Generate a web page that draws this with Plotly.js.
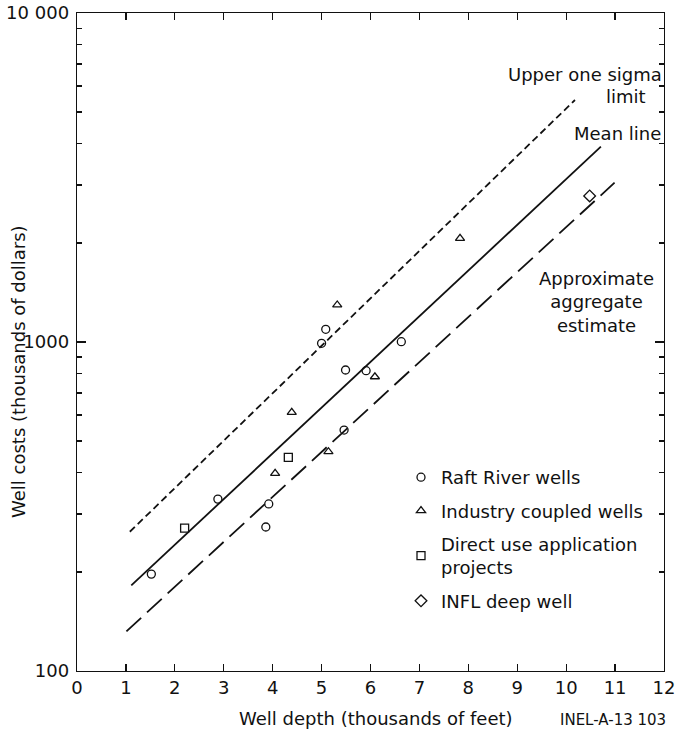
<!DOCTYPE html>
<html>
<head>
<meta charset="utf-8">
<script src="https://cdn.plot.ly/plotly-3.0.1.min.js"></script>
<style>html,body{margin:0;padding:0;background:#fff;}#chart{width:676px;height:738px;}</style>
</head>
<body>
<div id="chart"></div>
<script>
// Data
var raftX = [1.52, 2.88, 3.86, 3.92, 5.00, 5.085, 5.46, 5.49, 5.91, 6.63];
var raftY = [197, 333, 274, 322, 991, 1093, 540, 822, 818, 1002];
var industryX = [4.05, 4.39, 5.14, 5.32, 6.09, 7.83];
var industryY = [399, 611, 464, 1296, 784, 2066];
var directX = [2.20, 4.32];
var directY = [272, 446];
var inflX = [10.48];
var inflY = [2779];

var upperX = [1.08, 10.18];
var upperY = [265, 5440];
var meanX = [1.11, 10.71];
var meanY = [182, 3924];
var aggX = [1.01, 10.99];
var aggY = [132, 3050];

var xTickVals = [0, 1, 2, 3, 4, 5, 6, 7, 8, 9, 10, 11, 12];
var xTickText = ["0", "1", "2", "3", "4", "5", "6", "7", "8", "9", "10", "11", "12"];
var yTickVals = [100, 1000, 10000];
var yTickText = ["100", "1000", "10 000"];
var yMinorVals = [200, 300, 400, 500, 600, 700, 800, 900, 2000, 3000, 4000, 5000, 6000, 7000, 8000, 9000];

var FONT = "DejaVu Sans, Liberation Sans, Arial, sans-serif";
var INK = "#111";

function markerTrace(x, y, name, symbol, size, group) {
  return {
    x: x, y: y, type: "scatter", mode: "markers", name: name,
    legendgroup: group,
    marker: {symbol: symbol, size: size, color: INK, line: {color: INK, width: 1.3}},
    hoverinfo: "skip", cliponaxis: false
  };
}
function lineTrace(x, y, dash) {
  return {
    x: x, y: y, type: "scatter", mode: "lines", showlegend: false,
    line: {color: INK, width: 1.8, dash: dash}, hoverinfo: "skip"
  };
}

var data = [
  lineTrace(upperX, upperY, "7px,4px"),
  lineTrace(meanX, meanY, "solid"),
  lineTrace(aggX, aggY, "20px,8px"),
  markerTrace(raftX, raftY, "Raft River wells", "circle-open", 8, "a"),
  markerTrace(industryX, industryY, "Industry coupled wells", "triangle-up-open", 8, "b"),
  markerTrace(directX, directY, "Direct use application<br>projects", "square-open", 8, "c"),
  markerTrace(inflX, inflY, "INFL deep well", "diamond-open", 9, "d")
];

var PL = 77, PR = 664, PT = 13, PB = 671;
var PW = PR - PL, PH = PB - PT;
function px(x) { return (x - PL) / PW; }
function py(y) { return (PB - y) / PH; }

var layout = {
  width: 676, height: 738,
  margin: {l: PL, r: 676 - PR, t: PT, b: 738 - PB},
  paper_bgcolor: "#fff", plot_bgcolor: "#fff",
  font: {family: FONT, size: 18, color: INK},
  showlegend: true,
  legend: {
    x: px(401), y: py(459), xanchor: "left", yanchor: "top",
    bgcolor: "rgba(0,0,0,0)", borderwidth: 0,
    font: {family: FONT, size: 18, color: INK},
    traceorder: "grouped", tracegroupgap: 7, itemwidth: 30
  },
  xaxis: {
    range: [0, 12], tickmode: "array", tickvals: xTickVals, ticktext: xTickText,
    showgrid: false, zeroline: false,
    showline: true, linecolor: INK, linewidth: 1.3, mirror: "ticks",
    ticks: "inside", ticklen: 7, tickwidth: 1.2, tickcolor: INK,
    ticklabeloverflow: "allow",
    tickfont: {family: FONT, size: 18, color: INK}
  },
  yaxis: {
    type: "log", range: [2, 4],
    tickmode: "array", tickvals: yTickVals, ticktext: yTickText,
    showgrid: false, zeroline: false,
    showline: true, linecolor: INK, linewidth: 1.3, mirror: "ticks",
    ticks: "inside", ticklen: 9, tickwidth: 1.2, tickcolor: INK,
    ticklabelstandoff: 3, ticklabeloverflow: "allow",
    tickfont: {family: FONT, size: 18, color: INK},
    minor: {tickmode: "array", tickvals: yMinorVals, ticks: "inside", ticklen: 5, tickwidth: 1.1, tickcolor: INK, showgrid: false}
  },
  annotations: [
    {xref: "paper", yref: "paper", x: px(664), y: py(74), xanchor: "right", yanchor: "middle",
     text: "Upper one sigma", showarrow: false, font: {family: FONT, size: 18, color: INK}},
    {xref: "paper", yref: "paper", x: px(626), y: py(97), xanchor: "center", yanchor: "middle",
     text: "limit", showarrow: false, font: {family: FONT, size: 18, color: INK}},
    {xref: "paper", yref: "paper", x: px(663), y: py(134), xanchor: "right", yanchor: "middle",
     text: "Mean line", showarrow: false, font: {family: FONT, size: 18, color: INK}},
    {xref: "paper", yref: "paper", x: px(596), y: py(302), xanchor: "center", yanchor: "middle",
     text: "Approximate<br>aggregate<br>estimate", align: "center", showarrow: false,
     font: {family: FONT, size: 18, color: INK}},
    {xref: "paper", yref: "paper", x: px(19), y: py(372), xanchor: "center", yanchor: "middle",
     text: "Well costs (thousands of dollars)", textangle: -90, showarrow: false,
     font: {family: FONT, size: 18, color: INK}},
    {xref: "paper", yref: "paper", x: px(376), y: py(718), xanchor: "center", yanchor: "middle",
     text: "Well depth (thousands of feet)", showarrow: false, font: {family: FONT, size: 18, color: INK}},
    {xref: "paper", yref: "paper", x: px(668), y: py(720), xanchor: "right", yanchor: "middle",
     text: "INEL-A-13 103", showarrow: false, font: {family: FONT, size: 15, color: INK}}
  ]
};

Plotly.newPlot("chart", data, layout, {displayModeBar: false, staticPlot: true});
</script>
</body>
</html>
